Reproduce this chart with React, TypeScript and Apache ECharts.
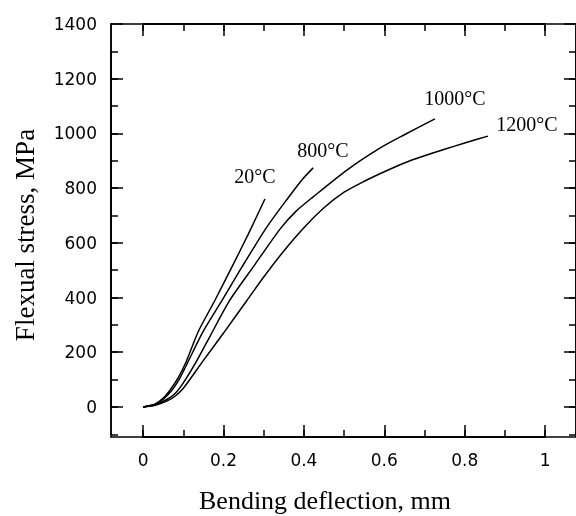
import { useEffect, useRef } from "react";
import * as echarts from "echarts";

// Bending deflection (mm) / flexural stress (MPa) per test temperature
const x20 = [0, 0.03, 0.05, 0.067, 0.087, 0.107, 0.137, 0.179, 0.221, 0.261, 0.303];
const y20 = [0, 11, 32, 62, 106, 165, 275, 391, 512, 630, 760];

const x800 = [0, 0.03, 0.05, 0.07, 0.09, 0.11, 0.149, 0.197, 0.246, 0.308, 0.361, 0.395, 0.423];
const y800 = [0, 9, 28, 58, 102, 160, 275, 391, 512, 658, 765, 830, 874];

const x1000 = [0, 0.03, 0.06, 0.08, 0.1, 0.13, 0.167, 0.216, 0.274, 0.341, 0.38, 0.423, 0.507, 0.59, 0.65, 0.726];
const y1000 = [0, 8, 28, 50, 88, 160, 260, 391, 512, 651, 715, 768, 866, 947, 995, 1053];

const x1200 = [0, 0.03, 0.06, 0.08, 0.1, 0.15, 0.2, 0.259, 0.3, 0.35, 0.4, 0.45, 0.5, 0.55, 0.6, 0.65, 0.7, 0.75, 0.8, 0.858];
const y1200 = [0, 6, 22, 40, 68, 170, 270, 391, 475, 570, 655, 728, 785, 825, 860, 892, 918, 942, 965, 990];

const curveLabels = ["20°C", "800°C", "1000°C", "1200°C"];

// axis ranges and tick spacing
const X_MIN = -0.08;
const X_MAX = 1.077;
const Y_MIN = -110;
const Y_MAX = 1400;
const X_TICK_MIN = 0;
const X_TICK_MAX = 1;
const X_MAJOR = 0.2;
const X_MINOR = 0.1;
const Y_TICK_MAX = 1400;
const Y_MAJOR = 200;
const Y_MINOR_MIN = -100;
const Y_MINOR_MAX = 1300;
const Y_MINOR = 100;

const MAJOR_LEN = 12;
const MINOR_LEN = 7;

// pixel layout of the frame
const W = 576;
const H = 516;
const FRAME_L = 111;
const FRAME_R = 576;
const FRAME_T = 24;
const FRAME_B = 437;

const zip = (xs: number[], ys: number[]) => xs.map((x, i) => [x, ys[i]]);

const px = (v: number) => FRAME_L + ((v - X_MIN) / (X_MAX - X_MIN)) * (FRAME_R - FRAME_L);
const py = (v: number) => FRAME_B - ((v - Y_MIN) / (Y_MAX - Y_MIN)) * (FRAME_B - FRAME_T);

function tickAxis(
  position: string,
  min: number,
  max: number,
  interval: number | undefined,
  len: number,
  gridIndex: number,
  withLabel: boolean
) {
  return {
    type: "value",
    gridIndex,
    position,
    min,
    max,
    interval,
    splitLine: { show: false },
    axisLine: { show: true, onZero: false, lineStyle: { color: "#000", width: 1.5 } },
    axisTick: len > 0
      ? { show: true, inside: true, length: len, lineStyle: { color: "#000", width: 1.5 } }
      : { show: false },
    axisLabel: withLabel
      ? {
          show: true,
          margin: 14,
          fontFamily: "DejaVu Sans",
          fontSize: 17,
          color: "#000",
          formatter: (v: number) => String(v),
        }
      : { show: false },
  };
}

const hiddenAxis = (gridIndex: number) => ({ type: "value", gridIndex, show: false, min: 0, max: 1 });

export default function App() {
  const ref = useRef<HTMLDivElement>(null);
  useEffect(() => {
    if (!ref.current) return;
    const chart = echarts.init(ref.current, undefined, { renderer: "svg" });
    const seriesData = [zip(x20, y20), zip(x800, y800), zip(x1000, y1000), zip(x1200, y1200)];
    const labelPos = [
      [255, 176],
      [323, 150],
      [455, 98],
      [527, 124],
    ];
    chart.setOption({
      animation: false,
      grid: [
        { left: FRAME_L, right: W - FRAME_R, top: FRAME_T, bottom: H - FRAME_B },
        { left: px(X_TICK_MIN), right: W - px(X_TICK_MAX), top: FRAME_T, bottom: H - FRAME_B },
        { left: FRAME_L, right: W - FRAME_R, top: py(Y_TICK_MAX), bottom: H - py(0) },
        { left: FRAME_L, right: W - FRAME_R, top: py(Y_MINOR_MAX), bottom: H - py(Y_MINOR_MIN) },
      ],
      xAxis: [
        tickAxis("bottom", X_MIN, X_MAX, undefined, 0, 0, false),
        tickAxis("top", X_MIN, X_MAX, undefined, 0, 0, false),
        tickAxis("bottom", X_TICK_MIN, X_TICK_MAX, X_MAJOR, MAJOR_LEN, 1, true),
        tickAxis("bottom", X_TICK_MIN, X_TICK_MAX, X_MINOR, MINOR_LEN, 1, false),
        tickAxis("top", X_TICK_MIN, X_TICK_MAX, X_MAJOR, MAJOR_LEN, 1, false),
        tickAxis("top", X_TICK_MIN, X_TICK_MAX, X_MINOR, MINOR_LEN, 1, false),
        hiddenAxis(2),
        hiddenAxis(3),
      ],
      yAxis: [
        tickAxis("left", Y_MIN, Y_MAX, undefined, 0, 0, false),
        tickAxis("right", Y_MIN, Y_MAX, undefined, 0, 0, false),
        hiddenAxis(1),
        tickAxis("left", 0, Y_TICK_MAX, Y_MAJOR, MAJOR_LEN, 2, true),
        tickAxis("right", 0, Y_TICK_MAX, Y_MAJOR, MAJOR_LEN, 2, false),
        tickAxis("left", Y_MINOR_MIN, Y_MINOR_MAX, Y_MINOR, MINOR_LEN, 3, false),
        tickAxis("right", Y_MINOR_MIN, Y_MINOR_MAX, Y_MINOR, MINOR_LEN, 3, false),
      ],
      series: seriesData.map((d, i) => ({
        name: curveLabels[i],
        type: "line",
        xAxisIndex: 0,
        yAxisIndex: 0,
        data: d,
        showSymbol: false,
        smooth: 0.25,
        lineStyle: { color: "#000", width: 1.5 },
        itemStyle: { color: "#000" },
      })),
      graphic: [
        {
          type: "text",
          x: 325,
          y: 500,
          style: {
            text: "Bending deflection, mm",
            fontFamily: "Liberation Serif",
            fontSize: 26,
            fill: "#000",
            textAlign: "center",
            textVerticalAlign: "middle",
          },
        },
        {
          type: "text",
          x: 25,
          y: 235,
          rotation: Math.PI / 2,
          style: {
            text: "Flexual stress, MPa",
            fontFamily: "Liberation Serif",
            fontSize: 27,
            fill: "#000",
            textAlign: "center",
            textVerticalAlign: "middle",
          },
        },
        ...curveLabels.map((t, i) => ({
          type: "text",
          x: labelPos[i][0],
          y: labelPos[i][1],
          style: {
            text: t,
            fontFamily: "Liberation Serif",
            fontSize: 20,
            fill: "#000",
            textAlign: "center",
            textVerticalAlign: "middle",
          },
        })),
      ],
    });
    return () => chart.dispose();
  }, []);
  return <div ref={ref} style={{ position: "fixed", left: 0, top: 0, width: W, height: H }} />;
}
